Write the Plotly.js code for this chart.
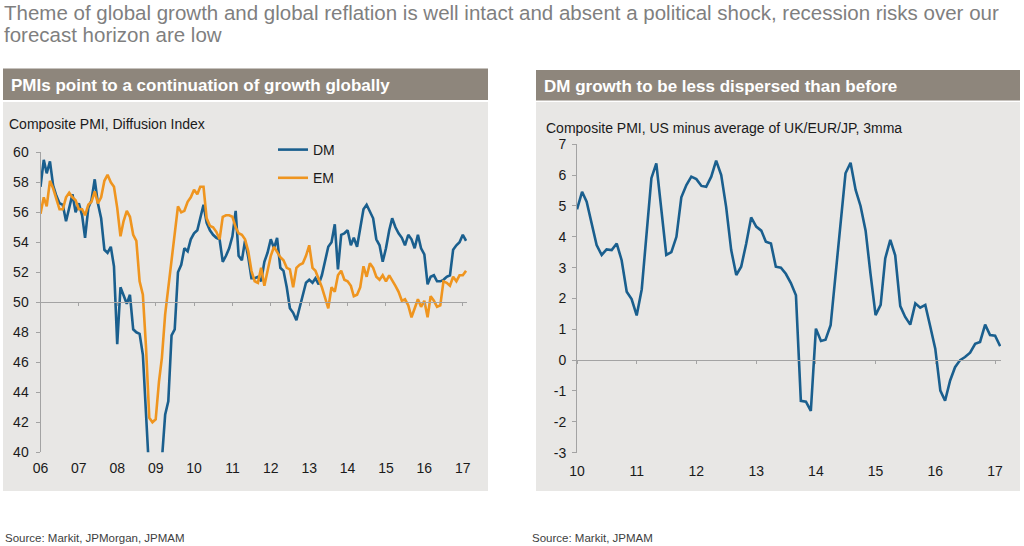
<!DOCTYPE html>
<html>
<head>
<meta charset="utf-8">
<script src="https://cdn.plot.ly/plotly-3.0.1.min.js"></script>
<style>
html,body{margin:0;padding:0;background:#fff;}
#chart{width:1024px;height:546px;}
</style>
</head>
<body>
<div id="chart"></div>
<script>
// ---------------- DATA ----------------
const titleLine1 = 'Theme of global growth and global reflation is well intact and absent a political shock, recession risks over our';
const titleLine2 = 'forecast horizon are low';
const leftHeader = 'PMIs point to a continuation of growth globally';
const rightHeader = 'DM growth to be less dispersed than before';
const leftSubtitle = 'Composite PMI, Diffusion Index';
const rightSubtitle = 'Composite PMI, US minus average of UK/EUR/JP, 3mma';
const leftSource = 'Source: Markit, JPMorgan, JPMAM';
const rightSource = 'Source: Markit, JPMAM';
const seriesNames = ['DM', 'EM'];

// Monthly, Jan 2006 - Feb 2017
const leftStart = [2006, 1];
const dmPMI = [
  57.7,59.5,58.6,59.4,57.8,57.1,56.6,56.5,55.4,56.2,57.2,56.0,
  56.6,55.8,54.3,56.3,56.8,58.2,56.6,55.6,53.5,53.3,53.7,52.4,
  47.2,51.0,50.5,49.9,50.5,48.2,48.0,47.9,46.5,42.0,38.5,37.5,
  37.0,37.5,39.5,42.5,43.4,47.8,48.2,52.0,52.5,53.6,53.4,54.2,
  54.6,54.8,55.7,56.5,55.3,54.8,54.5,54.3,54.2,52.7,53.1,53.6,
  54.4,56.1,53.1,52.8,54.1,53.0,51.6,51.6,51.7,51.4,52.7,53.3,
  54.2,53.6,54.3,52.3,52.1,51.0,49.6,49.3,48.8,49.6,50.5,51.3,
  51.5,51.3,51.6,51.2,51.8,52.7,53.7,54.0,55.2,52.2,54.5,54.6,
  54.8,53.8,54.3,53.7,55.0,56.2,56.5,56.0,55.6,54.2,53.8,52.7,
  53.6,54.8,55.6,55.0,54.6,54.3,53.8,54.5,54.2,53.6,54.5,53.6,
  53.2,51.2,51.7,51.8,51.4,51.4,51.5,51.7,51.8,53.5,53.8,54.0,
  54.5,54.1
];
const emPMI = [
  55.9,57.0,56.4,58.1,57.6,56.8,56.2,56.2,57.0,57.3,57.0,56.8,
  56.2,56.2,55.8,56.5,56.7,57.4,56.6,57.0,58.1,58.5,58.0,57.7,
  56.3,54.4,55.4,56.1,55.7,54.5,54.1,51.4,50.5,47.0,42.3,42.0,
  42.2,44.7,46.3,49.2,51.0,52.7,54.5,56.4,56.0,56.1,56.7,57.0,
  57.5,57.2,57.7,57.7,55.6,55.1,55.0,54.7,54.2,55.7,55.8,55.8,
  55.7,55.0,54.6,54.5,54.2,53.4,52.1,51.4,51.3,52.3,51.1,52.1,
  53.1,53.7,53.4,53.0,52.8,52.3,52.2,51.0,52.3,52.5,52.6,53.1,
  53.8,52.3,52.1,51.6,51.0,50.3,49.6,51.0,50.7,51.8,52.1,51.5,
  51.4,51.1,50.4,50.5,51.0,52.4,51.7,52.6,52.3,51.7,51.5,51.8,
  51.4,51.8,51.5,51.1,50.7,50.1,50.2,49.8,49.0,49.6,50.2,49.7,
  50.1,49.0,50.4,50.1,49.7,49.8,51.4,51.3,51.1,51.7,51.4,51.8,
  51.8,52.1
];

// Monthly, Jan 2010 - Feb 2017
const rightStart = [2010, 1];
const usMinusOthers = [
  4.89,5.46,5.14,4.38,3.73,3.41,3.59,3.57,3.78,3.24,2.22,1.98,
  1.45,2.30,4.00,5.90,6.38,4.90,3.41,3.50,4.00,5.28,5.68,5.95,
  5.87,5.65,5.62,5.95,6.47,6.00,4.97,3.57,2.76,3.03,3.78,4.63,
  4.33,4.20,3.84,3.78,3.03,3.00,2.80,2.50,2.10,-1.32,-1.35,-1.65,
  1.02,0.62,0.66,1.13,2.80,4.55,6.06,6.40,5.52,5.00,4.20,2.80,
  1.46,1.79,3.30,3.90,3.40,1.75,1.40,1.15,1.84,1.70,1.79,1.10,
  0.37,-0.99,-1.32,-0.66,-0.23,0.00,0.10,0.24,0.53,0.59,1.15,0.81,
  0.79,0.45
];

const leftYRange = [40, 60];
const leftBaseline = 50;
const rightYRange = [-3, 7];
const rightBaseline = 0;
const rightYTickVals = [-3, -2, -1, 0, 1, 2, 3, 4, 5, 6, 7];
const rightYTickText = ['-3', '-2', '-1', '0', '1', '2', '3', '4', '5', '6', '7'];

// ---------------- HELPERS ----------------
function monthDates(start, n) {
  const out = [];
  let y = start[0], m = start[1];
  for (let i = 0; i < n; i++) {
    out.push(y + '-' + String(m).padStart(2, '0') + '-01');
    m++; if (m > 12) { m = 1; y++; }
  }
  return out;
}
const W = 1024, H = 546;
const px = v => v / W;
const py = v => 1 - v / H;

const FONT = 'Liberation Sans, Arial, Helvetica, sans-serif';
const BLUE = '#1a5f8e';
const ORANGE = '#ef951f';
const AXIS = '#a3a3a3';
const PANEL = '#e8e7e5';
const HEAD = '#8e867c';
const CLEAR = 'rgba(0,0,0,0)';

const leftX = monthDates(leftStart, dmPMI.length);
const rightX = monthDates(rightStart, usMinusOthers.length);

const xDomL = [px(40.5), px(467)];
const yDomL = [py(452.3), py(152.3)];
const xDomR = [px(577), px(1001)];
const yDomR = [py(452.6), py(144.3)];

const leftRange = ['2006-01-01', '2017-02-10'];
const rightRange = ['2010-01-01', '2017-02-06'];

const posL = yDomL[0] + (leftBaseline - leftYRange[0]) / (leftYRange[1] - leftYRange[0]) * (yDomL[1] - yDomL[0]);
const posR = yDomR[0] + (rightBaseline - rightYRange[0]) / (rightYRange[1] - rightYRange[0]) * (yDomR[1] - yDomR[0]);

const traces = [
  // carriers for the baseline axes (invisible)
  {x: leftX, y: dmPMI, type: 'scatter', mode: 'lines', line: {color: CLEAR, width: 0},
   xaxis: 'x3', yaxis: 'y', showlegend: false, hoverinfo: 'skip'},
  {x: rightX, y: usMinusOthers, type: 'scatter', mode: 'lines', line: {color: CLEAR, width: 0},
   xaxis: 'x4', yaxis: 'y2', showlegend: false, hoverinfo: 'skip'},
  {x: leftX, y: dmPMI, name: seriesNames[0], type: 'scatter', mode: 'lines',
   line: {color: BLUE, width: 2.6}, xaxis: 'x', yaxis: 'y', legendgroup: 'a'},
  {x: leftX, y: emPMI, name: seriesNames[1], type: 'scatter', mode: 'lines',
   line: {color: ORANGE, width: 2.6}, xaxis: 'x', yaxis: 'y', legendgroup: 'b'},
  {x: rightX, y: usMinusOthers, name: 'US minus others', type: 'scatter', mode: 'lines',
   line: {color: BLUE, width: 2.6}, xaxis: 'x2', yaxis: 'y2', showlegend: false}
];

const tickFont = {family: FONT, size: 14, color: '#1a1a1a'};

const layout = {
  width: W, height: H,
  margin: {l: 0, r: 0, t: 0, b: 0},
  paper_bgcolor: '#ffffff',
  plot_bgcolor: CLEAR,
  font: {family: FONT, color: '#1a1a1a'},
  showlegend: true,
  legend: {
    x: px(273), y: py(134), xanchor: 'left', yanchor: 'top',
    bgcolor: CLEAR, font: {family: FONT, size: 14, color: '#1a1a1a'},
    traceorder: 'grouped', tracegroupgap: 7, itemwidth: 30
  },
  xaxis: {
    domain: xDomL, anchor: 'y', type: 'date', range: leftRange,
    tick0: '2006-01-01', dtick: 'M12', tickformat: '%y',
    ticks: '', showline: false, showgrid: false, zeroline: false,
    tickfont: tickFont, ticklabelstandoff: 6
  },
  yaxis: {
    domain: yDomL, anchor: 'x', range: leftYRange, dtick: 2,
    ticks: 'outside', ticklen: 4, tickcolor: AXIS, tickwidth: 1,
    showline: true, linecolor: AXIS, linewidth: 1,
    showgrid: false, zeroline: false, tickfont: tickFont, ticklabelstandoff: 4
  },
  xaxis3: {
    overlaying: 'x', anchor: 'free', position: posL, type: 'date', range: leftRange,
    tick0: '2006-01-01', dtick: 'M12', ticks: 'outside', ticklen: 3, tickcolor: AXIS,
    showline: true, linecolor: AXIS, linewidth: 1, showticklabels: false,
    showgrid: false, zeroline: false
  },
  xaxis2: {
    domain: xDomR, anchor: 'y2', type: 'date', range: rightRange,
    tick0: '2010-01-01', dtick: 'M12', tickformat: '%y',
    ticks: '', showline: false, showgrid: false, zeroline: false,
    tickfont: tickFont, ticklabelstandoff: 8
  },
  yaxis2: {
    domain: yDomR, anchor: 'x2', range: rightYRange,
    tickmode: 'array', tickvals: rightYTickVals, ticktext: rightYTickText,
    ticks: 'outside', ticklen: 4, tickcolor: AXIS, tickwidth: 1,
    showline: true, linecolor: AXIS, linewidth: 1,
    showgrid: false, zeroline: false, tickfont: tickFont, ticklabelstandoff: 3
  },
  xaxis4: {
    overlaying: 'x2', anchor: 'free', position: posR, type: 'date', range: rightRange,
    tick0: '2010-01-01', dtick: 'M12', ticks: 'outside', ticklen: 3, tickcolor: AXIS,
    showline: true, linecolor: AXIS, linewidth: 1, showticklabels: false,
    showgrid: false, zeroline: false
  },
  shapes: [
    {type: 'rect', xref: 'paper', yref: 'paper', layer: 'below', line: {width: 0},
     x0: px(3), x1: px(488), y0: py(100), y1: py(68.5), fillcolor: HEAD},
    {type: 'rect', xref: 'paper', yref: 'paper', layer: 'below', line: {width: 0},
     x0: px(536), x1: px(1020), y0: py(100.5), y1: py(70), fillcolor: HEAD},
    {type: 'rect', xref: 'paper', yref: 'paper', layer: 'below', line: {width: 0},
     x0: px(3), x1: px(488), y0: py(491), y1: py(102), fillcolor: PANEL},
    {type: 'rect', xref: 'paper', yref: 'paper', layer: 'below', line: {width: 0},
     x0: px(536), x1: px(1020), y0: py(491), y1: py(102), fillcolor: PANEL}
  ],
  annotations: [
    {text: titleLine1, xref: 'paper', yref: 'paper', x: px(2), y: py(12.5), xanchor: 'left', yanchor: 'middle',
     align: 'left', showarrow: false, font: {family: FONT, size: 20.5, color: '#7f7f7f'}},
    {text: titleLine2, xref: 'paper', yref: 'paper', x: px(2), y: py(34.5), xanchor: 'left', yanchor: 'middle',
     align: 'left', showarrow: false, font: {family: FONT, size: 20.5, color: '#7f7f7f'}},
    {text: '<b>' + leftHeader + '</b>', xref: 'paper', yref: 'paper', x: px(9), y: py(85), xanchor: 'left', yanchor: 'middle',
     showarrow: false, font: {family: FONT, size: 17, color: '#ffffff'}},
    {text: '<b>' + rightHeader + '</b>', xref: 'paper', yref: 'paper', x: px(542), y: py(86), xanchor: 'left', yanchor: 'middle',
     showarrow: false, font: {family: FONT, size: 17, color: '#ffffff'}},
    {text: leftSubtitle, xref: 'paper', yref: 'paper', x: px(7), y: py(124), xanchor: 'left', yanchor: 'middle',
     showarrow: false, font: {family: FONT, size: 14, color: '#1a1a1a'}},
    {text: rightSubtitle, xref: 'paper', yref: 'paper', x: px(544), y: py(128), xanchor: 'left', yanchor: 'middle',
     showarrow: false, font: {family: FONT, size: 14, color: '#1a1a1a'}},
    {text: leftSource, xref: 'paper', yref: 'paper', x: px(3), y: py(538), xanchor: 'left', yanchor: 'middle',
     showarrow: false, font: {family: FONT, size: 11.5, color: '#404040'}},
    {text: rightSource, xref: 'paper', yref: 'paper', x: px(530), y: py(538), xanchor: 'left', yanchor: 'middle',
     showarrow: false, font: {family: FONT, size: 11.5, color: '#404040'}}
  ]
};

Plotly.newPlot('chart', traces, layout, {staticPlot: true, displayModeBar: false});
</script>
</body>
</html>
